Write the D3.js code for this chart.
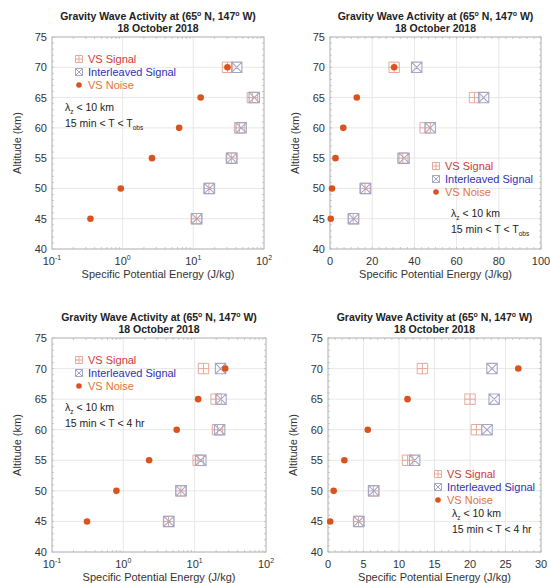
<!DOCTYPE html>
<html><head><meta charset="utf-8">
<script src="https://cdn.jsdelivr.net/npm/d3@7"></script>
<style>
body{margin:0;background:#fff;}
svg{font-family:"Liberation Sans",Arial,sans-serif;}
</style></head>
<body>
<svg id="c" width="550" height="583"></svg>
<script>
// ---- Data ----
const altitudes = [45, 50, 55, 60, 65, 70];
// 15 min < T < Tobs
const vsSignalObs    = [11.0, 16.6, 34.5, 45.1, 68.5, 30.4];
const interleavedObs = [11.2, 16.9, 35.1, 47.5, 72.8, 41.1];
const vsNoiseObs     = [0.35, 0.94, 2.6, 6.3, 12.7, 30.4];
// 15 min < T < 4 hr
const vsSignal4hr    = [4.3, 6.4, 11.2, 20.9, 20.0, 13.3];
const interleaved4hr = [4.35, 6.45, 12.2, 22.4, 23.4, 23.1];
const vsNoise4hr     = [0.31, 0.8, 2.3, 5.6, 11.2, 26.8];

const yTicks = [40, 45, 50, 55, 60, 65, 70, 75];
const logTicks = [0.1, 1, 10, 100];
const logTickExp = ["-1", "0", "1", "2"];
const linTicksObs = [0, 20, 40, 60, 80, 100];
const linTicks4hr = [0, 5, 10, 15, 20, 25, 30];
const legendLabels = ["VS Signal", "Interleaved Signal", "VS Noise"];
const titleLine2 = "18 October 2018";

const svg = d3.select("#c");
const C = {
  sigStroke: "#e9a898", intStroke: "#a4a8c4", noise: "#d9531e",
  sigText: "#d2383a", intText: "#2e32b4", noiseText: "#e3733a"
};

function panel(o) {
  const g = svg.append("g");
  const y = d3.scaleLinear().domain([40, 75]).range([o.y1, o.y0]);
  const x = o.log ? d3.scaleLog().domain([0.1, 100]).range([o.x0, o.x1])
                  : d3.scaleLinear().domain([0, o.xmax]).range([o.x0, o.x1]);
  // grid
  const xt = o.log ? logTicks : o.xticks;
  g.selectAll(".gx").data(xt).join("line")
    .attr("x1", d => x(d)).attr("x2", d => x(d)).attr("y1", o.y0).attr("y2", o.y1)
    .attr("stroke", "#e8e8e8").attr("stroke-width", 1);
  g.selectAll(".gy").data(yTicks).join("line")
    .attr("x1", o.x0).attr("x2", o.x1).attr("y1", d => y(d)).attr("y2", d => y(d))
    .attr("stroke", "#e8e8e8").attr("stroke-width", 1);
  // minor ticks
  let minor = [];
  if (o.log) { [0.1, 1, 10].forEach(b => { for (let k = 2; k <= 9; k++) minor.push(b * k); }); }
  else { for (let v = 0; v <= o.xmax; v += o.xmax / 30) minor.push(v); }
  g.selectAll(".mx").data(minor).join("path")
    .attr("d", d => `M${x(d)},${o.y1}v-2M${x(d)},${o.y0}v2`)
    .attr("stroke", "#bbb").attr("stroke-width", 0.8);
  const yMinor = d3.range(40, 75.01, 1);
  g.selectAll(".my").data(yMinor).join("path")
    .attr("d", d => `M${o.x0},${y(d)}h2M${o.x1},${y(d)}h-2`)
    .attr("stroke", "#bbb").attr("stroke-width", 0.8);
  // box
  g.append("rect").attr("x", o.x0).attr("y", o.y0).attr("width", o.x1 - o.x0).attr("height", o.y1 - o.y0)
    .attr("fill", "none").attr("stroke", "#b8b8b8").attr("stroke-width", 1);
  // y tick labels
  g.selectAll(".yl").data(yTicks).join("text")
    .attr("x", o.x0 - 5).attr("y", d => y(d) + 4).attr("text-anchor", "end")
    .attr("font-size", 11).attr("fill", "#333").text(d => d);
  // x tick labels
  const tly = o.y1 + 16;
  if (o.log) {
    const t = g.selectAll(".xl").data(logTicks).join("text")
      .attr("x", (d) => x(d)).attr("y", tly).attr("text-anchor", "middle")
      .attr("font-size", 11).attr("fill", "#333");
    t.append("tspan").text("10");
    t.append("tspan").attr("dy", -5).attr("font-size", 7).text((d, i) => logTickExp[i]);
  } else {
    g.selectAll(".xl").data(o.xticks).join("text")
      .attr("x", d => x(d)).attr("y", tly).attr("text-anchor", "middle")
      .attr("font-size", 11).attr("fill", "#333").text(d => d);
  }
  // axis labels
  g.append("text").attr("x", (o.x0 + o.x1) / 2).attr("y", o.y1 + 29).attr("text-anchor", "middle")
    .attr("font-size", 11).attr("fill", "#333").text("Specific Potential Energy (J/kg)");
  g.append("text").attr("transform", `translate(${o.x0 - 31},${(o.y0 + o.y1) / 2}) rotate(-90)`)
    .attr("text-anchor", "middle").attr("font-size", 11).attr("fill", "#333").text("Altitude (km)");
  // title
  const cx = (o.x0 + o.x1) / 2;
  const t1 = g.append("text").attr("x", cx).attr("y", o.y0 - 17).attr("text-anchor", "middle")
    .attr("font-size", 10.5).attr("font-weight", "bold").attr("fill", "#222");
  t1.append("tspan").text("Gravity Wave Activity at (65");
  t1.append("tspan").attr("dy", -4).attr("font-size", 7).text("o");
  t1.append("tspan").attr("dy", 4).text(" N, 147");
  t1.append("tspan").attr("dy", -4).attr("font-size", 7).text("o");
  t1.append("tspan").attr("dy", 4).text(" W)");
  g.append("text").attr("x", cx).attr("y", o.y0 - 5).attr("text-anchor", "middle")
    .attr("font-size", 10.5).attr("font-weight", "bold").attr("fill", "#222").text(titleLine2);

  // markers
  const s = 5.2;
  const data = altitudes.map((a, i) => ({ a, sig: o.sig[i], int: o.int[i], noi: o.noi[i] }));
  g.selectAll(".sig").data(data).join("path")
    .attr("d", d => { const px = x(d.sig), py = y(d.a);
      return `M${px - s},${py - s}h${2 * s}v${2 * s}h${-2 * s}ZM${px},${py - s}v${2 * s}M${px - s},${py}h${2 * s}`; })
    .attr("fill", "none").attr("stroke", C.sigStroke).attr("stroke-width", 1);
  g.selectAll(".int").data(data).join("path")
    .attr("d", d => { const px = x(d.int), py = y(d.a);
      return `M${px - s},${py - s}h${2 * s}v${2 * s}h${-2 * s}ZM${px - s},${py - s}L${px + s},${py + s}M${px + s},${py - s}L${px - s},${py + s}`; })
    .attr("fill", "none").attr("stroke", C.intStroke).attr("stroke-width", 1.1);
  g.selectAll(".noi").data(data).join("circle")
    .attr("cx", d => x(d.noi)).attr("cy", d => y(d.a)).attr("r", 3.3).attr("fill", C.noise);

  // legend
  const ls = 3.5;
  const cols = [C.sigText, C.intText, C.noiseText];
  legendLabels.forEach((lab, i) => {
    const ly = o.ly + i * 13, mx = o.lx;
    if (i === 0) g.append("path").attr("d", `M${mx - ls},${ly - ls}h${2 * ls}v${2 * ls}h${-2 * ls}ZM${mx},${ly - ls}v${2 * ls}M${mx - ls},${ly}h${2 * ls}`)
      .attr("fill", "none").attr("stroke", C.sigStroke);
    else if (i === 1) g.append("path").attr("d", `M${mx - ls},${ly - ls}h${2 * ls}v${2 * ls}h${-2 * ls}ZM${mx - ls},${ly - ls}L${mx + ls},${ly + ls}M${mx + ls},${ly - ls}L${mx - ls},${ly + ls}`)
      .attr("fill", "none").attr("stroke", C.intStroke);
    else g.append("circle").attr("cx", mx).attr("cy", ly).attr("r", 2.8).attr("fill", C.noise);
    g.append("text").attr("x", mx + 9).attr("y", ly + 4).attr("font-size", 11).attr("fill", cols[i]).text(lab);
  });
  // annotation
  const a1 = g.append("text").attr("x", o.ax).attr("y", o.ay).attr("font-size", 10.5).attr("fill", "#222");
  a1.append("tspan").text("λ");
  a1.append("tspan").attr("dy", 3).attr("font-size", 6.5).text("z");
  a1.append("tspan").attr("dy", -3).text(" < 10 km");
  const a2 = g.append("text").attr("x", o.ax).attr("y", o.ay + 16).attr("font-size", 10.5).attr("fill", "#222");
  if (o.tobs) {
    a2.append("tspan").text("15 min < T < T");
    a2.append("tspan").attr("dy", 3).attr("font-size", 6.5).text("obs");
  } else a2.text("15 min < T < 4 hr");
}

panel({ x0: 52, x1: 264, y0: 37, y1: 249, log: true, sig: vsSignalObs, int: interleavedObs, noi: vsNoiseObs,
  lx: 79, ly: 59, ax: 65, ay: 111, tobs: true });
panel({ x0: 330, x1: 541, y0: 37, y1: 249, log: false, xmax: 100, xticks: linTicksObs, sig: vsSignalObs, int: interleavedObs, noi: vsNoiseObs,
  lx: 436, ly: 166, ax: 451, ay: 217, tobs: true });
panel({ x0: 52, x1: 266, y0: 338, y1: 552, log: true, sig: vsSignal4hr, int: interleaved4hr, noi: vsNoise4hr,
  lx: 79, ly: 360, ax: 65, ay: 411, tobs: false });
panel({ x0: 328, x1: 541, y0: 338, y1: 552, log: false, xmax: 30, xticks: linTicks4hr, sig: vsSignal4hr, int: interleaved4hr, noi: vsNoise4hr,
  lx: 438, ly: 474, ax: 452, ay: 517, tobs: false });
</script>
</body></html>
